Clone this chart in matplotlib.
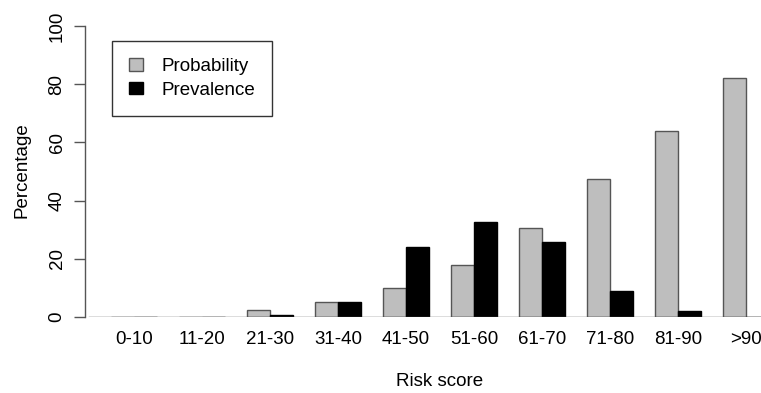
import matplotlib
matplotlib.use("Agg")
import matplotlib.pyplot as plt
from matplotlib.patches import Patch

# Risk score groups and the two series (percent)
categories = ['0-10', '11-20', '21-30', '31-40', '41-50',
              '51-60', '61-70', '71-80', '81-90', '>90']
probability = [0, 0, 2.4, 5.3, 10.1, 17.9, 30.6, 47.4, 63.8, 82.0]
prevalence = [0, 0, 0.6, 5.3, 23.9, 32.5, 25.9, 9.0, 2.2, 0]
y_ticks = [0, 20, 40, 60, 80, 100]


def main():
    plt.rcParams['font.family'] = ['Liberation Sans', 'DejaVu Sans']
    fs = 13.5
    W, H = 761, 393
    fig = plt.figure(figsize=(W / 100, H / 100), dpi=100)

    # axes placed in pixels: y axis line at x=85, value 0 at y=317, 100 at y=26
    ax = fig.add_axes([85 / W, (H - 317) / H, (W - 85) / W, 291 / H])

    # R style barplot: beside, space = c(0, 1)
    starts = [1 + 3 * i for i in range(len(categories))]
    ax.bar([s for s in starts], probability, width=1, align='edge',
           color='#bebebe', edgecolor='#555555', linewidth=1)
    ax.bar([s + 1 for s in starts], prevalence, width=1, align='edge',
           color='black', edgecolor='black', linewidth=1)

    ax.set_xlim(-0.163, 29.66)
    ax.set_ylim(0, 100)
    ax.plot([0, 40], [0, 0], color='#555555', linewidth=1, clip_on=True)

    for side in ['top', 'right', 'bottom']:
        ax.spines[side].set_visible(False)
    ax.spines['left'].set_color('#555555')
    ax.spines['left'].set_linewidth(1)

    ax.set_xticks([s + 1 for s in starts])
    ax.set_xticklabels(categories, fontsize=fs)
    ax.tick_params(axis='x', length=0, pad=10)

    ax.set_yticks(y_ticks)
    ax.set_yticklabels([str(v) for v in y_ticks], fontsize=fs,
                       rotation=90, va='center')
    ax.tick_params(axis='y', length=8, width=1, color='#555555', pad=6)

    fig.text(440 / W, 1 - 381.7 / H, 'Risk score', fontsize=fs,
             ha='center', va='center')
    fig.text(22 / W, 1 - 170 / H, 'Percentage', fontsize=fs,
             rotation=90, ha='center', va='center')

    handles = [Patch(facecolor='#bebebe', edgecolor='#555555', label='Probability'),
               Patch(facecolor='black', edgecolor='black', label='Prevalence')]
    leg = ax.legend(handles=handles, loc='upper left',
                    bbox_to_anchor=(111.7 / W, 1 - 41.3 / H),
                    bbox_transform=fig.transFigure, fontsize=fs,
                    fancybox=False, framealpha=1, edgecolor='#333333',
                    handlelength=0.76, handleheight=0.64, handletextpad=1.0,
                    borderpad=0.9, borderaxespad=0, labelspacing=0.35)
    leg.get_frame().set_linewidth(1)

    fig.savefig('out.png', dpi=100)


if __name__ == "__main__":
    main()
